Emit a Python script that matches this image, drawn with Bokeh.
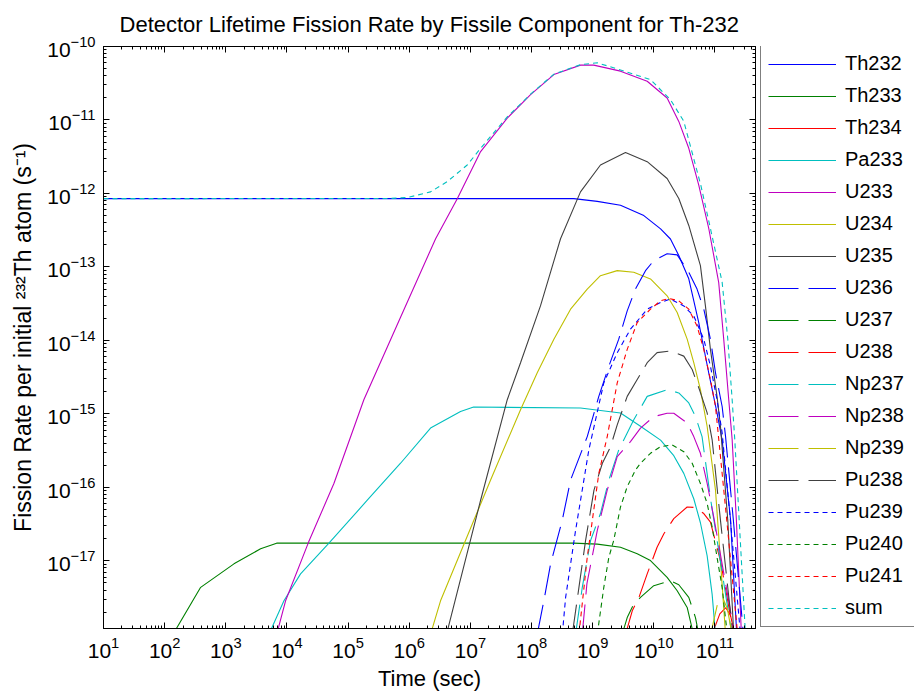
from bokeh.plotting import figure
from bokeh.models import (LogAxis, FixedTicker, Legend, LegendItem, Range1d,
                          CustomJSTickFormatter)
from bokeh.layouts import row
from bokeh.embed import file_html
from bokeh.resources import INLINE

# ---------------- data (time in s, fission rate per initial Th-232 atom in 1/s) ----------------
th232_t = [1.0e1, 4.9e8, 1.19e9, 2.85e9, 6.86e9, 1.29e10, 1.87e10, 2.56e10, 3.73e10, 5.43e10, 7.91e10, 1.08e11, 1.31e11, 1.80e11, 2.27e11]
th232_r = [8.5e-13, 8.5e-13, 7.8e-13, 6.9e-13, 5.0e-13, 3.3e-13, 2.4e-13, 1.43e-13, 6.9e-14, 1.75e-14, 3.6e-15, 1.03e-15, 4.4e-16, 3.6e-17, 1.0e-18]

th233_t = [1.37e2, 3.88e2, 1.36e3, 3.71e3, 6.78e3, 4.85e8, 1.19e9, 2.85e9, 5.35e9, 8.81e9, 1.65e10, 2.41e10, 3.51e10, 4.45e10]
th233_r = [1.0e-18, 4.36e-18, 9.1e-18, 1.46e-17, 1.74e-17, 1.74e-17, 1.69e-17, 1.53e-17, 1.25e-17, 1.01e-17, 5.96e-18, 3.92e-18, 2.32e-18, 1.0e-18]

th234_t = [9.0e10, 1.2e11, 1.5e11, 1.8e11, 2.1e11]
th234_r = [1.0e-18, 1.9e-18, 2.3e-18, 1.8e-18, 1.0e-18]

pa233_t = [5.07e3, 8.93e3, 1.67e4, 4.86e4, 2.06e5, 7.21e5, 2.23e6, 6.90e6, 1.13e7, 6.32e8, 2.85e9, 6.05e9, 1.29e10, 2.12e10, 3.09e10, 4.50e10, 5.78e10, 7.45e10, 8.99e10, 1.02e11]
pa233_r = [1.0e-18, 2.86e-18, 6.64e-18, 1.74e-17, 6.68e-17, 2.13e-16, 6.41e-16, 1.08e-15, 1.24e-15, 1.20e-15, 1.03e-15, 6.8e-16, 4.4e-16, 2.7e-16, 1.55e-16, 7.0e-17, 3.3e-17, 1.17e-17, 3.5e-18, 1.0e-18]

u233_t = [6.8e3, 9.5e3, 2.26e4, 5.86e4, 1.81e5, 7.21e5, 2.70e6, 6.10e6, 1.47e7, 4.01e7, 9.64e7, 2.32e8, 6.32e8, 1.04e9, 2.85e9, 7.79e9, 1.65e10, 2.56e10, 3.73e10, 5.43e10, 7.93e10, 1.15e11, 1.39e11, 1.68e11, 1.91e11, 2.24e11, 2.71e11]
u233_r = [1.0e-18, 2.86e-18, 1.80e-17, 1.13e-16, 1.56e-15, 2.07e-14, 2.42e-13, 8.5e-13, 3.72e-12, 1.06e-11, 2.21e-11, 4.15e-11, 5.58e-11, 5.58e-11, 4.62e-11, 3.37e-11, 1.99e-11, 9.57e-12, 4.12e-12, 1.30e-12, 3.31e-13, 6.18e-14, 1.04e-14, 1.56e-15, 4.44e-16, 3.56e-17, 1.0e-18]

u234_t = [2.23e6, 3.25e6, 1.14e7, 2.14e7, 6.61e7, 1.24e8, 2.32e8, 4.35e8, 8.15e8, 1.34e9, 2.52e9, 4.70e9, 8.81e9, 1.65e10, 2.41e10, 3.51e10, 4.50e10, 5.78e10, 7.45e10, 1.02e11, 1.23e11, 1.49e11]
u234_r = [1.0e-18, 2.86e-18, 3.56e-17, 1.26e-16, 1.14e-15, 3.62e-15, 1.04e-14, 2.66e-14, 5.0e-14, 7.6e-14, 8.91e-14, 8.47e-14, 6.86e-14, 4.05e-14, 2.40e-14, 1.04e-14, 4.97e-15, 2.14e-15, 6.74e-16, 9.16e-17, 1.0e-17, 1.0e-18]

u235_t = [4.07e6, 1.47e7, 4.01e7, 6.61e7, 1.40e8, 2.98e8, 6.32e8, 1.34e9, 3.44e9, 7.79e9, 1.65e10, 2.56e10, 3.73e10, 5.78e10, 6.98e10, 8.43e10, 1.08e11, 1.23e11, 1.62e11, 2.03e11]
u235_r = [1.0e-18, 6.68e-17, 1.56e-15, 4.97e-15, 2.95e-14, 2.42e-13, 1.05e-12, 2.44e-12, 3.61e-12, 2.71e-12, 1.60e-12, 8.53e-13, 3.67e-13, 1.04e-13, 2.95e-14, 7.55e-15, 1.73e-15, 6.74e-16, 3.56e-17, 1.0e-18]

u236_t = [1.24e8, 1.59e8, 2.05e8, 3.18e8, 4.35e8, 8.15e8, 1.26e9, 1.84e9, 2.67e9, 3.67e9, 5.01e9, 7.31e9, 9.98e9, 1.65e10, 2.41e10, 3.73e10, 5.09e10, 6.56e10, 8.43e10, 1.02e11, 1.31e11, 1.49e11, 2.0e11, 2.92e11]
u236_r = [1.0e-18, 2.86e-18, 9.1e-18, 3.56e-17, 1.26e-16, 4.91e-16, 1.73e-15, 4.46e-15, 1.04e-14, 2.52e-14, 5.0e-14, 8.89e-14, 1.22e-13, 1.51e-13, 1.46e-13, 8.47e-14, 5.0e-14, 2.66e-14, 1.04e-14, 3.62e-15, 1.26e-15, 4.91e-16, 3.56e-17, 1.0e-18]

u237_t = [3.04e9, 3.67e9, 4.70e9, 6.05e9, 9.98e9, 1.87e10, 2.56e10, 3.73e10, 4.80e10, 5.43e10]
u237_r = [1.0e-18, 1.69e-18, 2.58e-18, 3.18e-18, 4.59e-18, 5.37e-18, 4.73e-18, 3.18e-18, 1.69e-18, 1.0e-18]

u238_t = [3.45e9, 4.44e9, 5.71e9, 7.79e9, 1.13e10, 1.46e10, 2.12e10, 3.51e10, 4.80e10, 6.56e10, 8.43e10, 1.23e11, 2.03e11]
u238_r = [1.0e-18, 2.09e-18, 3.18e-18, 6.64e-18, 1.53e-17, 2.34e-17, 3.76e-17, 5.41e-17, 5.31e-17, 4.40e-17, 3.37e-17, 1.0e-17, 1.0e-18]

np237_t = [5.25e8, 6.76e8, 9.25e8, 1.34e9, 1.84e9, 2.67e9, 4.70e9, 7.79e9, 1.65e10, 2.56e10, 3.73e10, 4.80e10, 6.15e10, 8.53e10, 1.89e11]
np237_r = [1.0e-18, 4.36e-18, 1.90e-17, 4.40e-17, 1.26e-16, 3.23e-16, 8.30e-16, 1.73e-15, 2.14e-15, 1.93e-15, 1.41e-15, 9.23e-16, 4.91e-16, 6.68e-17, 1.0e-18]

np238_t = [6.75e8, 8.05e8, 1.19e9, 1.73e9, 2.52e9, 4.15e9, 6.05e9, 9.98e9, 1.65e10, 2.12e10, 3.51e10, 4.50e10, 5.78e10, 7.45e10, 9.55e10, 2.10e11]
np238_r = [1.0e-18, 4.89e-18, 2.59e-17, 9.16e-17, 2.62e-16, 4.2e-16, 6.4e-16, 9.2e-16, 1.02e-15, 1.02e-15, 7.5e-16, 4.91e-16, 2.91e-16, 1.13e-16, 3.94e-17, 1.0e-18]

np239_t = [8.5e10, 1.1e11, 1.35e11, 1.6e11, 1.9e11]
np239_r = [1.0e-18, 2.6e-18, 3.1e-18, 2.2e-18, 1.0e-18]

pu238_t = [4.64e8, 5.96e8, 7.66e8, 1.05e9, 1.44e9, 1.96e9, 2.52e9, 3.67e9, 5.35e9, 7.79e9, 1.13e10, 1.87e10, 3.09e10, 4.24e10, 5.57e10, 7.45e10, 8.99e10, 1.23e11, 1.96e11]
pu238_r = [1.0e-18, 4.36e-18, 1.90e-17, 9.16e-17, 2.13e-16, 3.58e-16, 7.10e-16, 1.73e-15, 2.93e-15, 4.97e-15, 6.81e-15, 7.16e-15, 6.11e-15, 4.02e-15, 2.14e-15, 1.03e-15, 4.44e-16, 3.56e-17, 1.0e-18]

pu239_t = [3.19e8, 3.61e8, 5.25e8, 8.65e8, 1.52e9, 2.52e9, 4.15e9, 7.79e9, 1.29e10, 1.87e10, 3.09e10, 4.50e10, 6.56e10, 8.43e10, 1.08e11, 1.31e11, 1.79e11, 2.61e11]
pu239_r = [1.0e-18, 3.18e-18, 2.59e-17, 3.23e-16, 2.64e-15, 6.81e-15, 1.42e-14, 2.66e-14, 3.29e-14, 3.65e-14, 2.95e-14, 2.15e-14, 1.04e-14, 4.46e-15, 1.56e-15, 5.52e-16, 3.56e-17, 1.0e-18]

pu240_t = [1.19e9, 1.52e9, 1.84e9, 2.21e9, 2.85e9, 3.67e9, 5.01e9, 6.05e9, 8.81e9, 1.29e10, 2.0e10, 3.09e10, 4.24e10, 5.78e10, 7.45e10, 8.99e10, 1.08e11, 1.31e11, 1.48e11, 1.60e11]
pu240_r = [1.0e-18, 4.36e-18, 1.12e-17, 1.90e-17, 5.41e-17, 1.02e-16, 1.72e-16, 2.13e-16, 2.91e-16, 3.58e-16, 3.78e-16, 3.06e-16, 2.13e-16, 1.13e-16, 6.03e-17, 2.88e-17, 1.12e-17, 4.36e-18, 1.69e-18, 1.0e-18]

pu241_t = [5.96e8, 8.15e8, 1.26e9, 1.73e9, 2.52e9, 3.67e9, 5.35e9, 8.81e9, 1.29e10, 1.76e10, 2.56e10, 3.73e10, 5.09e10, 6.56e10, 8.43e10, 1.02e11, 1.56e11, 2.35e11]
pu241_r = [1.0e-18, 1.12e-17, 1.55e-16, 4.91e-16, 2.64e-15, 7.55e-15, 1.75e-14, 2.66e-14, 3.46e-14, 3.73e-14, 3.46e-14, 2.66e-14, 1.57e-14, 7.55e-15, 2.93e-15, 1.26e-15, 3.56e-17, 1.0e-18]

sum_t = [1.0e1, 5.0e5, 9.3e5, 2.23e6, 4.19e6, 8.89e6, 1.47e7, 3.11e7, 4.01e7, 9.64e7, 2.32e8, 6.32e8, 1.19e9, 2.85e9, 8.8e9, 1.87e10, 3.09e10, 5.86e10, 8.45e10, 1.31e11, 1.62e11, 1.91e11, 2.11e11, 3.15e11]
sum_r = [8.5e-13, 8.55e-13, 8.8e-13, 1.05e-12, 1.45e-12, 2.44e-12, 4.12e-12, 8.6e-12, 1.10e-11, 2.25e-11, 4.2e-11, 5.65e-11, 6.0e-11, 4.8e-11, 3.55e-11, 1.89e-11, 9.6e-12, 1.3e-12, 3.3e-13, 6.2e-14, 1.04e-14, 1.56e-15, 4.4e-16, 1.0e-18]

labels = ["Th232", "Th233", "Th234", "Pa233", "U233", "U234", "U235",
          "U236", "U237", "U238", "Np237", "Np238", "Np239", "Pu238",
          "Pu239", "Pu240", "Pu241", "sum"]
times = [th232_t, th233_t, th234_t, pa233_t, u233_t, u234_t, u235_t,
         u236_t, u237_t, u238_t, np237_t, np238_t, np239_t, pu238_t,
         pu239_t, pu240_t, pu241_t, sum_t]
rates = [th232_r, th233_r, th234_r, pa233_r, u233_r, u234_r, u235_r,
         u236_r, u237_r, u238_r, np237_r, np238_r, np239_r, pu238_r,
         pu239_r, pu240_r, pu241_r, sum_r]

x_major = [1e1, 1e2, 1e3, 1e4, 1e5, 1e6, 1e7, 1e8, 1e9, 1e10, 1e11]
y_major = [1e-17, 1e-16, 1e-15, 1e-14, 1e-13, 1e-12, 1e-11, 1e-10]

TITLE = "Detector Lifetime Fission Rate by Fissile Component for Th-232"
XLABEL = "Time (sec)"
YLABEL = "Fission Rate per initial \u00b2\u00b3\u00b2Th atom (s\u207b\u00b9)"

# ---------------- styling ----------------
FONT = "Liberation Sans"
cycle = ["#0000FF", "#008000", "#FF0000", "#00BFBF", "#BF00BF", "#BFBF00", "#404040"]
dashes = ["solid"] * 7 + ["30 10"] * 7 + ["5 4"] * 4

X_LO, X_HI = 10, 4.6e11
Y_LO, Y_HI = 1.2e-18, 1e-10

H = 698
W_MAIN = 758
W_LEG = 156
F_LEFT, F_RIGHT, F_TOP, F_BOTTOM = 103, 755, 46, 628

x_minor = [m * 10.0 ** k for k in range(1, 12) for m in range(2, 10) if m * 10.0 ** k <= X_HI]
y_minor = [m * 10.0 ** k for k in range(-18, -10) for m in range(2, 10) if m * 10.0 ** k >= Y_LO]

p = figure(width=W_MAIN, height=H, x_axis_type="log", y_axis_type="log",
           x_range=Range1d(X_LO, X_HI), y_range=Range1d(Y_LO, Y_HI),
           output_backend="svg", toolbar_location=None,
           min_border_left=F_LEFT, min_border_right=W_MAIN - F_RIGHT,
           min_border_top=F_TOP, min_border_bottom=H - F_BOTTOM,
           title=TITLE)
p.title.text_font = FONT
p.title.text_font_size = "22px"
p.title.text_font_style = "normal"
p.title.align = "center"
p.title.vertical_align = "top"
p.title.standoff = 16
p.title.text_color = "black"

p.xgrid.visible = False
p.ygrid.visible = False
p.outline_line_color = "black"
p.outline_line_width = 1
p.background_fill_color = "white"
p.border_fill_color = "white"


def style_axis(ax, major, minor, labels_on=True):
    ax.ticker = FixedTicker(ticks=major, minor_ticks=minor)
    ax.major_tick_in = 6
    ax.major_tick_out = 0
    ax.minor_tick_in = 3
    ax.minor_tick_out = 0
    ax.axis_line_color = "black"
    ax.major_tick_line_color = "black"
    ax.minor_tick_line_color = "black"
    ax.major_label_text_font = FONT
    ax.major_label_text_color = "black"
    if labels_on:
        ax.major_label_text_font_size = "21px"
        ax.major_label_standoff = 8
    else:
        ax.formatter = CustomJSTickFormatter(code="return ''")
        ax.major_label_text_font_size = "1px"
        ax.major_label_standoff = 0


style_axis(p.xaxis[0], x_major, x_minor)
style_axis(p.yaxis[0], y_major, y_minor)
p.yaxis.axis_label = YLABEL
p.yaxis.axis_label_text_font_size = "23px"
p.yaxis.axis_label_standoff = 8
p.xaxis.axis_label = XLABEL
p.xaxis.axis_label_text_font_size = "22px"
p.xaxis.axis_label_standoff = 5
for ax in (p.xaxis[0], p.yaxis[0]):
    ax.axis_label_text_font = FONT
    ax.axis_label_text_font_style = "normal"
    ax.axis_label_text_color = "black"

top_ax = LogAxis()
style_axis(top_ax, x_major, x_minor, labels_on=False)
p.add_layout(top_ax, "above")
right_ax = LogAxis()
style_axis(right_ax, y_major, y_minor, labels_on=False)
p.add_layout(right_ax, "right")

for i, (lab, t, r) in enumerate(zip(labels, times, rates)):
    p.line(t, r, line_color=cycle[i % 7], line_width=1.1, line_dash=dashes[i])

# ---------------- legend panel (separate figure to the right of the axes) ----------------
# The same series are drawn here only as legend keys; the (0,1) view range keeps them off-screen.
pl = figure(width=W_LEG, height=H, output_backend="svg", toolbar_location=None,
            min_border=0, x_axis_location=None, y_axis_location=None,
            x_range=Range1d(0, 1), y_range=Range1d(0, 1))
pl.xgrid.visible = False
pl.ygrid.visible = False
pl.outline_line_color = None
pl.background_fill_color = "white"
pl.border_fill_color = "white"

items = []
for i, (lab, t, r) in enumerate(zip(labels, times, rates)):
    key = pl.line(t, r, line_color=cycle[i % 7], line_width=1.1, line_dash=dashes[i])
    items.append(LegendItem(label=lab, renderers=[key]))

LEG_TOP, LEG_HEIGHT = 46, 581
legend = Legend(items=items, location=(2, F_BOTTOM - LEG_TOP - LEG_HEIGHT))
legend.margin = 0
legend.padding = 7
legend.spacing = 9
legend.glyph_width = 68
legend.glyph_height = 20
legend.label_height = 20
legend.label_width = 62
legend.label_standoff = 9
legend.label_text_font = FONT
legend.label_text_font_size = "20px"
legend.label_text_color = "black"
legend.border_line_color = "black"
legend.border_line_width = 1
legend.background_fill_color = "white"
legend.background_fill_alpha = 1.0
pl.add_layout(legend)

layout = row(p, pl, spacing=0)
open("out.html", "w").write(file_html(layout, INLINE))
